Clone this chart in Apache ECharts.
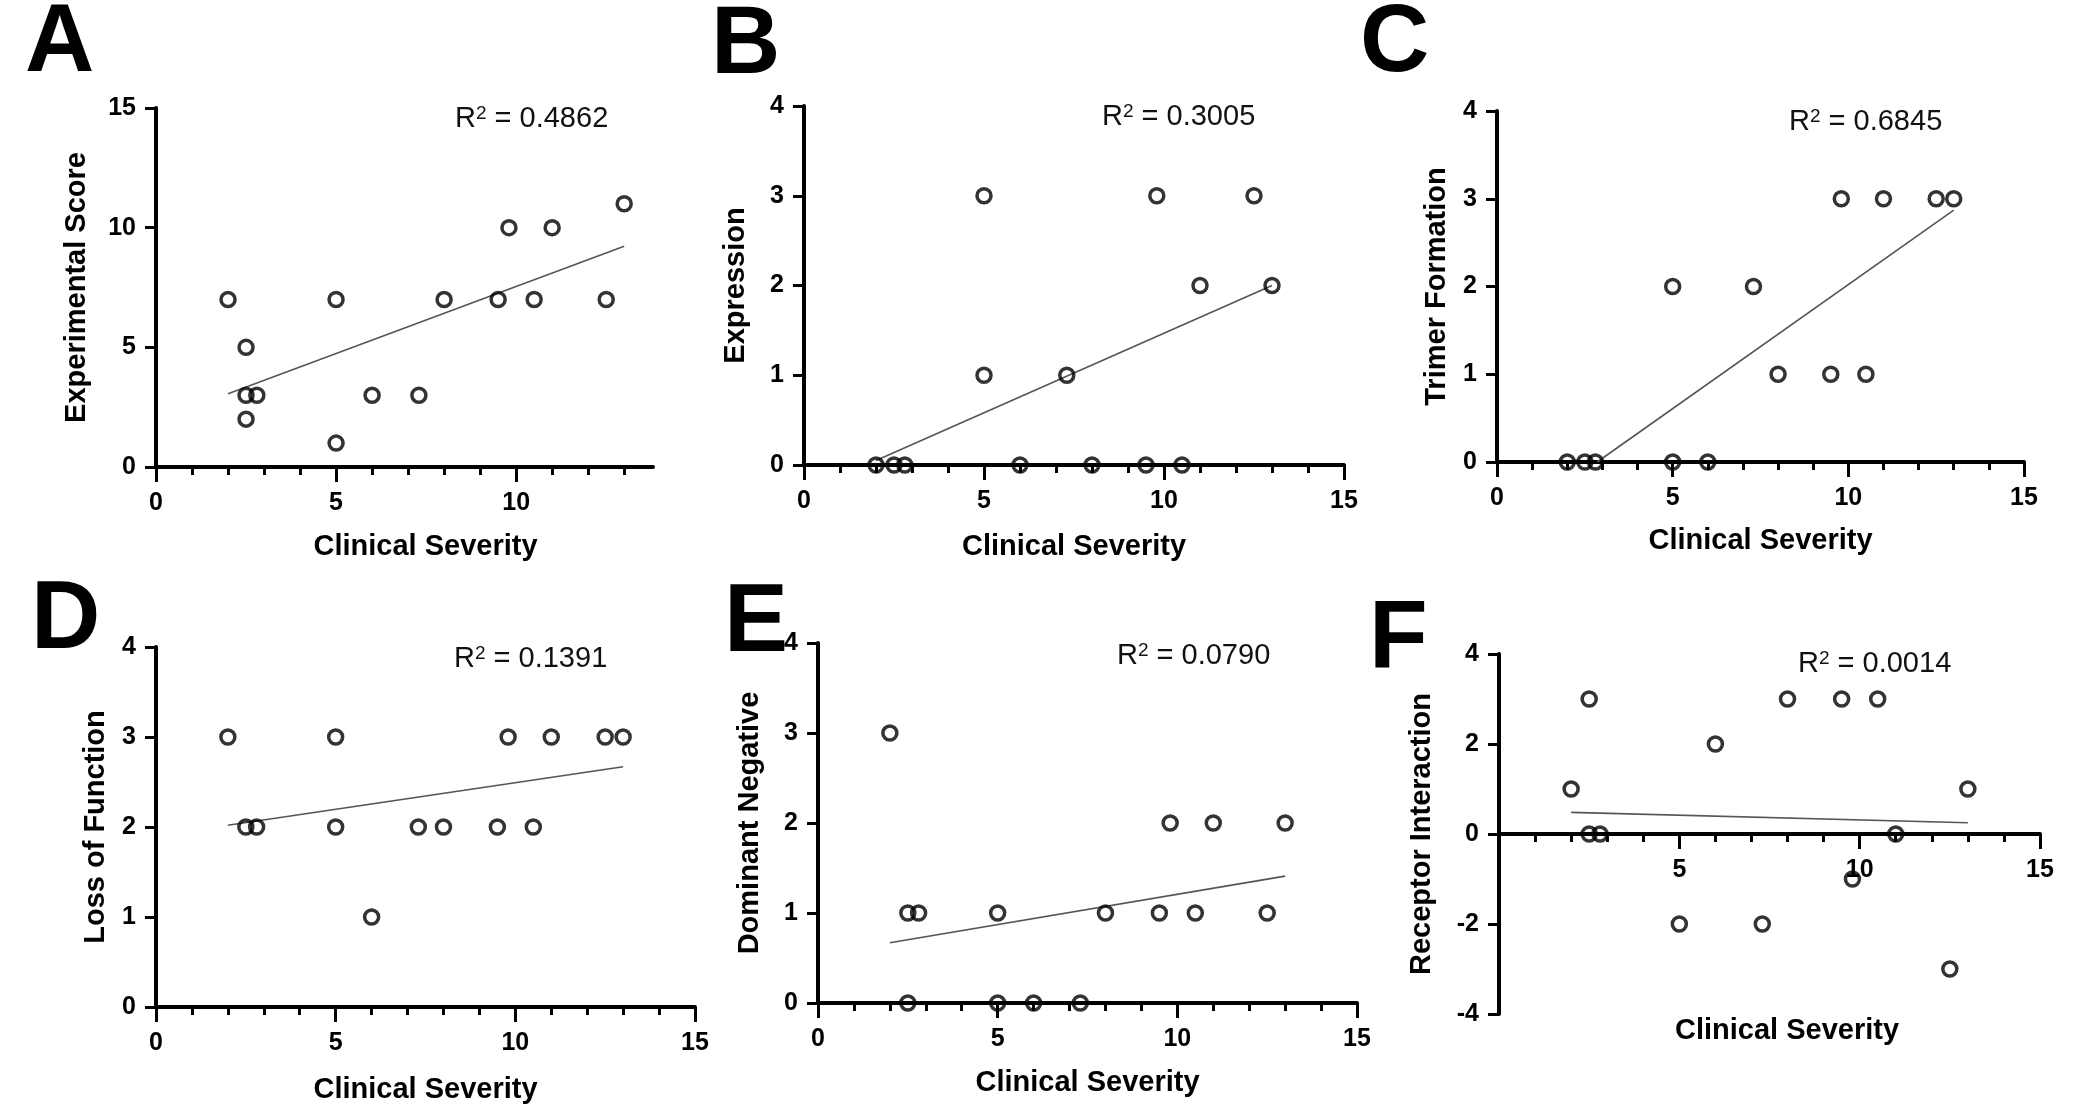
<!DOCTYPE html>
<html><head><meta charset="utf-8">
<script src="https://cdn.jsdelivr.net/npm/echarts@6/dist/echarts.min.js"></script>
<style>html,body{margin:0;padding:0;background:#fff}#c{width:2100px;height:1104px}</style>
</head><body><div id="c"></div>
<script>
// ---- data ----
const sevA = [2, 2.5, 2.5, 2.5, 2.8, 5, 5, 6, 7.3, 8, 9.5, 9.8, 10.5, 11, 12.5, 13];
const scoreA = [7, 5, 3, 2, 3, 7, 1, 3, 3, 7, 7, 10, 7, 10, 7, 11];
const fitA = [[2, 3.06], [13, 9.22]];

const sevB = [2, 2.5, 2.8, 5, 5, 6, 7.3, 8, 9.5, 9.8, 10.5, 11, 12.5, 13];
const exprB = [0, 0, 0, 3, 1, 0, 1, 0, 0, 3, 0, 2, 3, 2];
const fitB = [[2, 0.05], [13, 2.0]];

const sevC = [2, 2.5, 2.8, 5, 5, 6, 7.3, 8, 9.5, 9.8, 10.5, 11, 12.5, 13];
const trimerC = [0, 0, 0, 2, 0, 0, 2, 1, 1, 3, 1, 3, 3, 3];
const fitC = [[2.85, 0], [13, 2.87]];

const sevD = [2, 2.5, 2.8, 5, 5, 6, 7.3, 8, 9.5, 9.8, 10.5, 11, 12.5, 13];
const lofD = [3, 2, 2, 3, 2, 1, 2, 2, 2, 3, 2, 3, 3, 3];
const fitD = [[2, 2.02], [13, 2.67]];

const sevE = [2, 2.5, 2.5, 2.8, 5, 5, 6, 7.3, 8, 9.5, 9.8, 10.5, 11, 12.5, 13];
const dnE = [3, 1, 0, 1, 1, 0, 0, 0, 1, 1, 2, 1, 2, 1, 2];
const fitE = [[2, 0.67], [13, 1.41]];

const sevF = [2, 2.5, 2.5, 2.8, 5, 6, 7.3, 8, 9.5, 9.8, 10.5, 11, 12.5, 13];
const riF = [1, 3, 0, 0, -2, 2, -2, 3, 3, -1, 3, 0, -3, 1];
const fitF = [[2, 0.48], [13, 0.25]];

const r2Values = ['0.4862', '0.3005', '0.6845', '0.1391', '0.0790', '0.0014'];
const yNames = ['Experimental Score', 'Expression', 'Trimer Formation', 'Loss of Function', 'Dominant Negative', 'Receptor Interaction'];
const xName = 'Clinical Severity';
const panelLetters = ['A', 'B', 'C', 'D', 'E', 'F'];

const xMajorA = [0, 5, 10];
const xMajor = [0, 5, 10, 15];
const xMajorF = [5, 10, 15];
const xMinorA = [1, 2, 3, 4, 6, 7, 8, 9, 11, 12, 13];
const xMinor = [1, 2, 3, 4, 6, 7, 8, 9, 11, 12, 13, 14];

// ---- layout ----
const FONT = '"Liberation Sans", Arial, Helvetica, sans-serif';
const panels = [
  {xs: sevA, ys: scoreA, fit: fitA, grid: {left: 156, top: 108, width: 497, height: 359}, xmax: 13.8, ymin: 0, ymax: 15, yint: 5, major: xMajorA, minor: xMinorA, ygap: 65, xgap: 65, xpad: 42, lx: 25, ly: 45, rx: 455, ry: 104},
  {xs: sevB, ys: exprB, fit: fitB, grid: {left: 804, top: 106, width: 540, height: 359}, xmax: 15, ymin: 0, ymax: 4, yint: 1, major: xMajor, minor: xMinor, ygap: 54, xgap: 67, xpad: 0, lx: 711, ly: 47, rx: 1102, ry: 102},
  {xs: sevC, ys: trimerC, fit: fitC, grid: {left: 1497, top: 111, width: 527, height: 351}, xmax: 15, ymin: 0, ymax: 4, yint: 1, major: xMajor, minor: xMinor, ygap: 46, xgap: 64, xpad: 0, lx: 1360, ly: 45, rx: 1789, ry: 107},
  {xs: sevD, ys: lofD, fit: fitD, grid: {left: 156, top: 647, width: 539, height: 360}, xmax: 15, ymin: 0, ymax: 4, yint: 1, major: xMajor, minor: xMinor, ygap: 46, xgap: 68, xpad: 0, lx: 31, ly: 622, rx: 454, ry: 644},
  {xs: sevE, ys: dnE, fit: fitE, grid: {left: 818, top: 643, width: 539, height: 360}, xmax: 15, ymin: 0, ymax: 4, yint: 1, major: xMajor, minor: xMinor, ygap: 54, xgap: 65, xpad: 0, lx: 724, ly: 625, rx: 1117, ry: 641},
  // F: x-axis crosses at y = 0, drawn in a helper grid covering the upper half
  {xs: sevF, ys: riF, fit: fitF, grid: {left: 1499, top: 654, width: 541, height: 360}, xmax: 15, ymin: -4, ymax: 4, yint: 2, major: xMajorF, minor: xMinor, ygap: 63, xgap: 182, xpad: 35, lx: 1369, ly: 641, rx: 1798, ry: 649,
   axisGrid: {left: 1499, top: 654, width: 541, height: 180}}
];

const axisLineStyle = {color: '#000', width: 4};
const tickStyle = {color: '#000', width: 3};
const grids = [], xAxes = [], yAxes = [], series = [], graphics = [];

function visibleXAxes(gridIndex, p) {
  return [{
    gridIndex: gridIndex, type: 'value', min: 0, max: p.xmax, position: 'bottom',
    axisLine: {show: true, onZero: false, lineStyle: axisLineStyle},
    axisTick: {show: true, length: 15, lineStyle: tickStyle, customValues: p.major},
    axisLabel: {customValues: p.major, fontSize: 25, fontWeight: 'bold', color: '#000', margin: 24, fontFamily: FONT},
    splitLine: {show: false},
    name: xName, nameLocation: 'middle', nameGap: p.xgap, nameMoveOverlap: false,
    nameTextStyle: {fontSize: 29, fontWeight: 'bold', color: '#000', fontFamily: FONT, padding: [0, 0, 0, p.xpad]}
  }, {
    gridIndex: gridIndex, type: 'value', min: 0, max: p.xmax, position: 'bottom',
    axisLine: {show: false, onZero: false},
    axisTick: {show: true, length: 8, lineStyle: tickStyle, customValues: p.minor},
    axisLabel: {show: false},
    splitLine: {show: false}
  }];
}

panels.forEach((p, i) => {
  grids.push(Object.assign({containLabel: false, outerBoundsMode: 'none'}, p.grid));
  if (p.axisGrid) {
    const hidden = {gridIndex: i, type: 'value', min: 0, max: p.xmax, position: 'bottom', show: false, splitLine: {show: false}};
    xAxes.push(hidden, Object.assign({}, hidden));
  } else {
    xAxes.push(...visibleXAxes(i, p));
  }
  yAxes.push({
    gridIndex: i, type: 'value', min: p.ymin, max: p.ymax, interval: p.yint,
    axisLine: {show: true, onZero: false, lineStyle: axisLineStyle},
    axisTick: {show: true, length: 11, lineStyle: tickStyle},
    axisLabel: {fontSize: 25, fontWeight: 'bold', color: '#000', margin: 20, fontFamily: FONT},
    splitLine: {show: false},
    name: yNames[i], nameLocation: 'middle', nameGap: p.ygap, nameMoveOverlap: false,
    nameTextStyle: {fontSize: 29, fontWeight: 'bold', color: '#000', fontFamily: FONT}
  });
  series.push({
    type: 'line', xAxisIndex: 2 * i, yAxisIndex: i, data: p.fit,
    symbol: 'none', showSymbol: false, silent: true, z: 2,
    lineStyle: {color: '#555', width: 1.6}
  });
  series.push({
    type: 'scatter', xAxisIndex: 2 * i, yAxisIndex: i,
    data: p.xs.map((x, k) => [x, p.ys[k]]),
    symbol: 'circle', symbolSize: 14, clip: false, silent: true, z: 3,
    itemStyle: {color: 'rgba(0,0,0,0)', borderColor: '#000', borderWidth: 3.5}
  });
  graphics.push({
    type: 'text', x: p.lx, y: p.ly, silent: true,
    style: {text: panelLetters[i], font: 'bold 96px ' + FONT, fill: '#000', align: 'left', verticalAlign: 'middle'}
  });
  graphics.push({
    type: 'text', x: p.rx, y: p.ry, silent: true,
    style: {
      text: '{a|R}{b|2}{a| = ' + r2Values[i] + '}', align: 'left', verticalAlign: 'top',
      rich: {
        a: {fontSize: 29, fontFamily: FONT, fill: '#111', lineHeight: 29},
        b: {fontSize: 19, fontFamily: FONT, fill: '#111', verticalAlign: 'top', lineHeight: 19}
      }
    }
  });
});

// helper grid for panel F's zero-crossing x-axis
panels.forEach((p) => {
  if (!p.axisGrid) return;
  const gi = grids.length;
  grids.push(Object.assign({containLabel: false, outerBoundsMode: 'none'}, p.axisGrid));
  xAxes.push(...visibleXAxes(gi, p));
  yAxes.push({gridIndex: gi, type: 'value', min: 0, max: p.ymax, show: false, splitLine: {show: false}});
});

const chart = echarts.init(document.getElementById('c'), null, {renderer: 'canvas'});
chart.setOption({
  animation: false,
  backgroundColor: '#fff',
  grid: grids, xAxis: xAxes, yAxis: yAxes, series: series, graphic: graphics
});
</script>
</body></html>
